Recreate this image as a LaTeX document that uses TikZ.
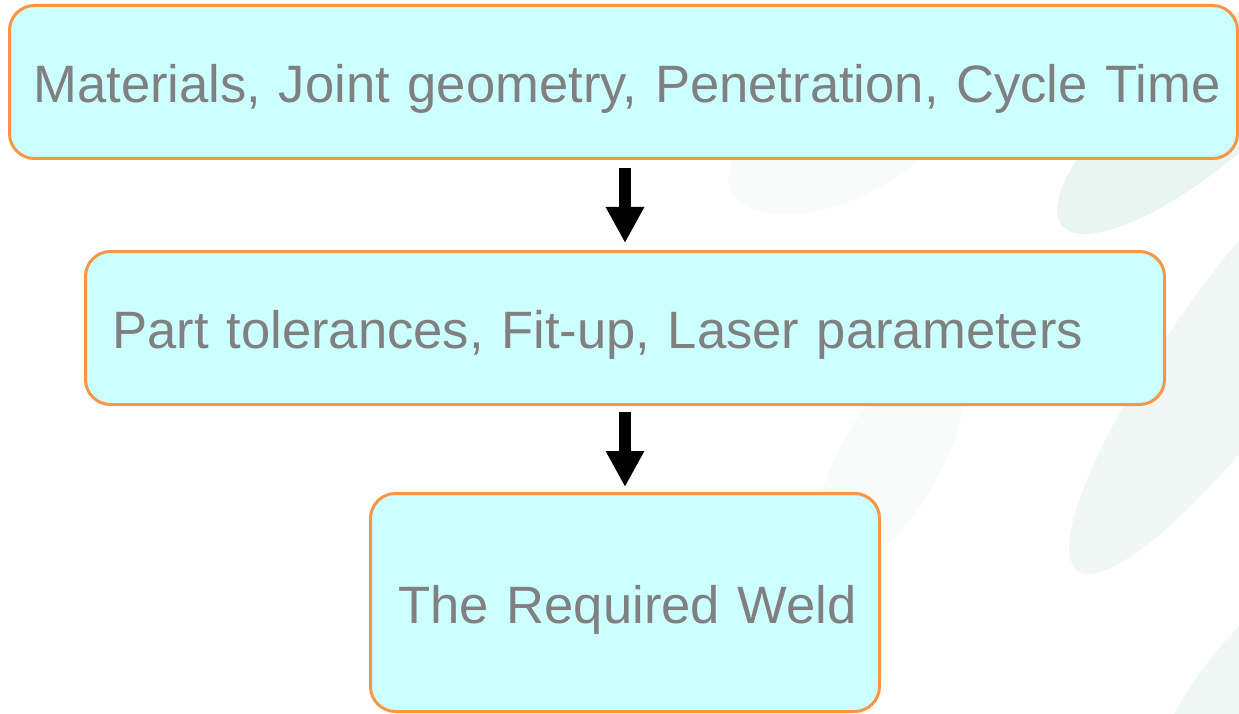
\documentclass[tikz,border=0pt]{standalone}
\usepackage{fontspec}
\setmainfont{Liberation Sans}
\usetikzlibrary{arrows.meta}

\definecolor{boxfill}{HTML}{CCFFFF}
\definecolor{boxedge}{HTML}{F79646}
\definecolor{boxtext}{HTML}{808080}
\definecolor{leafA}{HTML}{E9F5F1}
\definecolor{leafB}{HTML}{F0F7F5}
\definecolor{leafC}{HTML}{F8FBFA}

\tikzset{
  stagebox/.style={draw=boxedge, line width=3pt, fill=boxfill, rounded corners=25pt,
    text=boxtext, font=\fontsize{52.6}{60}\selectfont, align=left, inner ysep=0pt,
    text height=41pt, text depth=0pt},
  flowarrow/.style={line width=12pt, -{Triangle[width=36pt,length=36pt]}}
}

\begin{document}
\begin{tikzpicture}[x=1pt, y=-1pt]
  \useasboundingbox (0,0) rectangle (1239,714);
  % faint leaf pattern in the background
  \begin{scope}
    \clip (0,0) rectangle (1239,714);
    \fill[leafC] (840,140) ellipse [x radius=120, y radius=60, rotate=25];
    \fill[leafC] (890,460) ellipse [x radius=120, y radius=50, rotate=60];
    \fill[leafA] (1200,110) ellipse [x radius=180, y radius=58, rotate=40];
    \fill[leafB] (1245,340) ellipse [x radius=285, y radius=66, rotate=54];
    \fill[leafB] (1265,690) ellipse [x radius=160, y radius=62, rotate=50];
  \end{scope}

  % process stages, top to bottom
  \node[stagebox, minimum width=1228pt, minimum height=153pt,
        inner xsep=24pt, text width=1180pt] (b1) at (623.5,82)
        {\mbox{Materials, Joint geometry, Penetration, Cycle Time}};
  \node[stagebox, minimum width=1079pt, minimum height=153pt,
        inner xsep=27pt, text width=1025pt] (b2) at (625,328)
        {\mbox{Part tolerances, Fit-up, Laser parameters}};
  \node[stagebox, minimum width=509pt, minimum height=218pt,
        inner xsep=28pt, text width=453pt] (b3) at (625,602.5)
        {\mbox{The Required Weld}};

  % connectors
  \draw[flowarrow, shorten <=8pt, shorten >=7pt] (b2.north |- b1.south) -- (b2.north);
  \draw[flowarrow, shorten <=6pt, shorten >=5pt] (b2.south) -- (b3.north);
\end{tikzpicture}
\end{document}
